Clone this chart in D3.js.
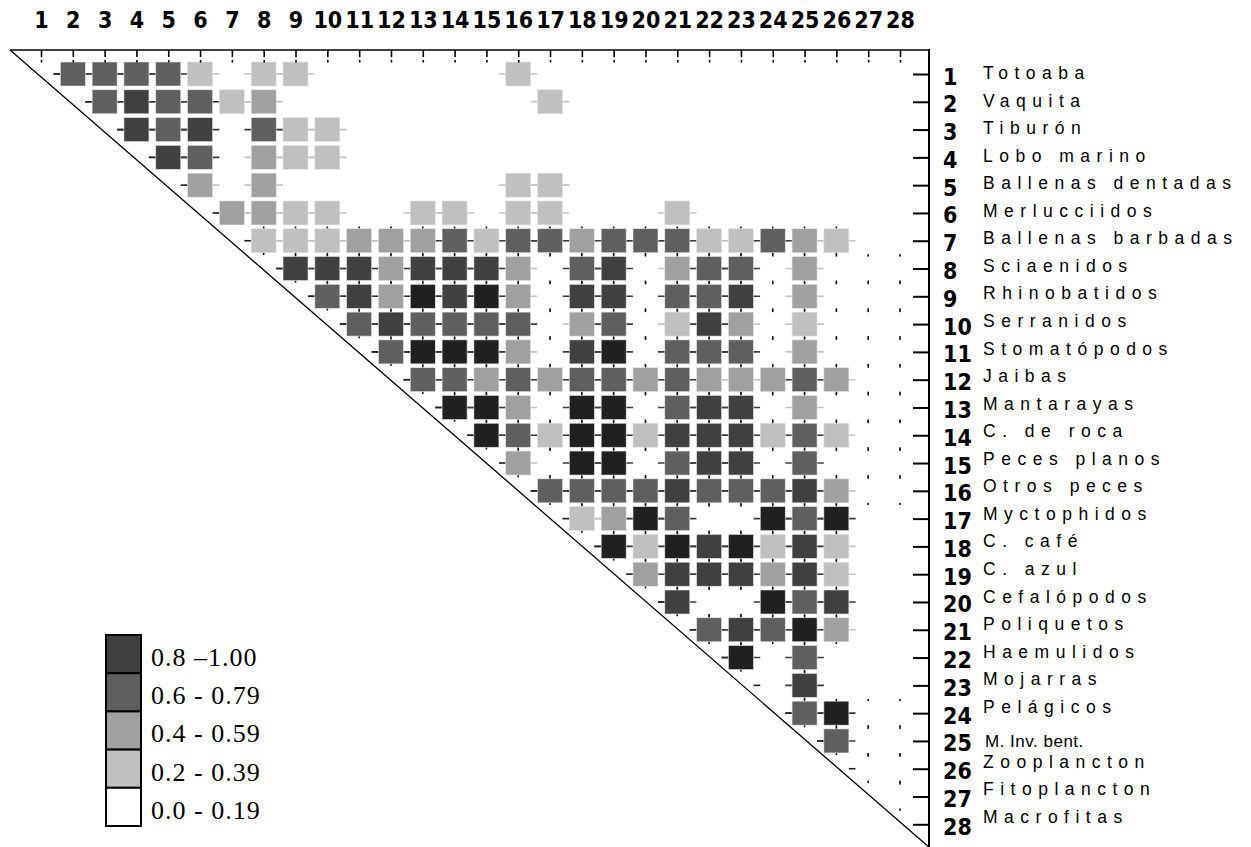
<!DOCTYPE html>
<html>
<head>
<meta charset="utf-8">
<script src="https://cdn.jsdelivr.net/npm/d3@7"></script>
<style>
  body { margin: 0; background: #fff; }
  svg { display: block; }
  .num { font-family: "Liberation Sans Narrow", "DejaVu Sans Condensed", sans-serif; font-stretch: condensed; font-weight: bold; font-size: 23px; fill: #000; }
  .name { font-family: "Liberation Sans", Arial, sans-serif; font-size: 17.5px; letter-spacing: 6.5px; fill: #000; }
  .name.plain { letter-spacing: 0.5px; font-size: 17px; }
  .leg { font-family: "Liberation Serif", "Times New Roman", serif; font-size: 26px; letter-spacing: 1px; fill: #000; }
</style>
</head>
<body>
<div id="chart"></div>
<script>
// group numbers (rows and columns)
const ids = [1, 2, 3, 4, 5, 6, 7, 8, 9, 10, 11, 12, 13, 14, 15, 16, 17, 18, 19, 20, 21, 22, 23, 24, 25, 26, 27, 28];

const species = ["Totoaba", "Vaquita", "Tiburón", "Lobo marino", "Ballenas dentadas", "Merlucciidos",
  "Ballenas barbadas", "Sciaenidos", "Rhinobatidos", "Serranidos", "Stomatópodos", "Jaibas",
  "Mantarayas", "C. de roca", "Peces planos", "Otros peces", "Myctophidos", "C. café", "C. azul",
  "Cefalópodos", "Poliquetos", "Haemulidos", "Mojarras", "Pelágicos", "M. Inv. bent.",
  "Zooplancton", "Fitoplancton", "Macrofitas"];

// overlap class per pair, each row starts at column (row + 1)
// -1 = not drawn, 0 = 0.0-0.19, 1 = 0.2-0.39, 2 = 0.4-0.59, 3 = 0.6-0.79, 4 = 0.8-1.00 (5 = darkest)
const row01 = [3, 3, 3, 3, 1, -1, 1, 1, -1, -1, -1, -1, -1, -1, 1, -1, -1, -1, -1, -1, -1, -1, -1, -1, -1, -1, -1];
const row02 = [3, 4, 3, 3, 1, 2, -1, -1, -1, -1, -1, -1, -1, -1, 1, -1, -1, -1, -1, -1, -1, -1, -1, -1, -1, -1];
const row03 = [4, 3, 4, -1, 3, 1, 1, -1, -1, -1, -1, -1, -1, -1, -1, -1, -1, -1, -1, -1, -1, -1, -1, -1, -1];
const row04 = [4, 3, -1, 2, 1, 1, -1, -1, -1, -1, -1, -1, -1, -1, -1, -1, -1, -1, -1, -1, -1, -1, -1, -1];
const row05 = [2, -1, 2, -1, -1, -1, -1, -1, -1, -1, 1, 1, -1, -1, -1, -1, -1, -1, -1, -1, -1, -1, -1];
const row06 = [2, 2, 1, 1, -1, -1, 1, 1, -1, 1, 1, -1, -1, -1, 1, -1, -1, -1, -1, -1, -1, -1];
const row07 = [1, 1, 1, 2, 2, 2, 3, 1, 3, 3, 2, 3, 3, 3, 1, 1, 3, 2, 1, -1, -1];
const row08 = [4, 4, 4, 2, 4, 4, 4, 2, 0, 3, 4, 0, 2, 3, 3, 0, 2, 0, 0, 0];
const row09 = [3, 4, 2, 5, 4, 5, 2, 0, 4, 4, 0, 3, 3, 4, 0, 2, 0, 0, 0];
const row10 = [3, 4, 3, 3, 3, 3, 0, 2, 3, 0, 1, 4, 2, 0, 1, 0, 0, 0];
const row11 = [3, 5, 5, 5, 2, 0, 4, 5, 0, 3, 3, 3, 0, 2, 0, 0, 0];
const row12 = [3, 3, 2, 3, 2, 3, 3, 2, 3, 2, 2, 2, 3, 2, 0, 0];
const row13 = [5, 5, 2, 0, 5, 5, 0, 3, 4, 4, 0, 2, 0, 0, 0];
const row14 = [5, 3, 1, 5, 5, 1, 4, 4, 4, 1, 3, 1, 0, 0];
const row15 = [2, 0, 5, 5, 0, 3, 4, 4, 0, 3, 0, 0, 0];
const row16 = [3, 3, 3, 3, 4, 3, 3, 3, 4, 2, 0, 0];
const row17 = [1, 2, 5, 3, 0, 0, 5, 3, 5, -1, -1];
const row18 = [5, 1, 5, 4, 5, 1, 4, 1, -1, -1];
const row19 = [2, 4, 4, 4, 2, 4, 1, -1, -1];
const row20 = [4, 0, 0, 5, 3, 4, -1, -1];
const row21 = [3, 4, 3, 5, 2, -1, -1];
const row22 = [5, -1, 3, -1, -1, -1];
const row23 = [-1, 4, -1, -1, -1];
const row24 = [3, 5, 0, 0];
const row25 = [3, 0, 0];
const row26 = [0, 0];
const row27 = [0];

const matrixRows = [row01, row02, row03, row04, row05, row06, row07, row08, row09, row10,
  row11, row12, row13, row14, row15, row16, row17, row18, row19, row20,
  row21, row22, row23, row24, row25, row26, row27];

const legendLabels = ["0.8 \u20131.00", "0.6 - 0.79", "0.4 - 0.59", "0.2 - 0.39", "0.0 - 0.19"];
const legendLevels = [4, 3, 2, 1, 0];

const plainNames = ["M. Inv. bent."];

let w = 1251;
let h = 847;
let cellW = 25;
let cellH = 24;

const shade = d3.scaleOrdinal()
                .domain([0, 1, 2, 3, 4, 5])
                .range(["#ffffff", "#c0c0c0", "#a0a0a0", "#5f5f5f", "#404040", "#202020"]);

const xScale = d3.scalePoint()
                 .domain(ids)
                 .range([41, 900]);

const yScale = d3.scalePoint()
                 .domain(ids)
                 .range([74, 824.3]);

// species names sit on a slightly tighter spacing than the ticks
const nameScale = d3.scalePoint()
                    .domain(species)
                    .range([79, 823]);

const legendScale = d3.scaleBand()
                      .domain(legendLabels)
                      .range([635, 826]);

const svg = d3.select("#chart")
              .append("svg")
              .attr("width", w)
              .attr("height", h);

// flatten the triangle into cells
let cells = [];
matrixRows.forEach((r, i) => {
  r.forEach((v, k) => {
    if (v >= 0) cells.push({ row: ids[i], col: ids[i + 1 + k], v: v });
  });
});

let reach = cellW / 2 + (xScale.step() - cellW);

// whiskers, light ones first so dark ones end up on top
const whiskers = cells.filter(d => d.v > 0).sort((a, b) => a.v - b.v);
svg.append("g")
   .selectAll("line")
   .data(whiskers)
   .enter()
   .append("line")
   .attr("x1", d => xScale(d.col) - reach)
   .attr("x2", d => xScale(d.col) + reach)
   .attr("y1", d => yScale(d.row))
   .attr("y2", d => yScale(d.row))
   .attr("stroke", d => d.v >= 3 ? "#3a3a3a" : "#c4c4c4")
   .attr("stroke-width", 1.6);

// first whisker out of the diagonal in every row
svg.append("g")
   .selectAll("line")
   .data(ids.slice(0, 26))
   .enter()
   .append("line")
   .attr("x1", d => xScale(d + 1) - reach)
   .attr("x2", d => xScale(d + 1) - cellW / 2)
   .attr("y1", d => yScale(d))
   .attr("y2", d => yScale(d))
   .attr("stroke", "#222")
   .attr("stroke-width", 1.6);

// small vertical ticks above and below each cell
svg.append("g")
   .selectAll("line")
   .data(cells.filter(d => d.row >= 7))
   .enter()
   .append("line")
   .attr("x1", d => xScale(d.col))
   .attr("x2", d => xScale(d.col))
   .attr("y1", d => yScale(d.row) - 14.2)
   .attr("y2", d => yScale(d.row) + 14.2)
   .attr("stroke", "#111")
   .attr("stroke-width", 1.6);

svg.append("g")
   .selectAll("rect")
   .data(cells)
   .enter()
   .append("rect")
   .attr("x", d => xScale(d.col) - cellW / 2)
   .attr("y", d => yScale(d.row) - cellH / 2)
   .attr("width", cellW)
   .attr("height", cellH)
   .attr("fill", d => shade(d.v))
   .attr("stroke", d => d.v > 0 ? "#e4e4e4" : "none")
   .attr("stroke-width", 0.6);

// diagonal
svg.append("line")
   .attr("x1", 10).attr("y1", 50)
   .attr("x2", 930).attr("y2", 848)
   .attr("stroke", "#000")
   .attr("stroke-width", 1.3);

// top axis
const xAxis = d3.axisTop(xScale)
                .tickSize(-7)
                .tickPadding(22);

const gx = svg.append("g")
              .attr("transform", "translate(0,50)")
              .call(xAxis);
gx.select(".domain").remove();
gx.selectAll(".tick line").attr("stroke-width", 1.6);
gx.selectAll(".tick text").attr("class", "num").attr("font-family", null).attr("font-size", null);
gx.selectAll(".tick")
  .append("rect")
  .attr("x", -0.8).attr("y", 10)
  .attr("width", 1.6).attr("height", 2.5)
  .attr("fill", "#000");

svg.append("line")
   .attr("x1", 10).attr("y1", 50)
   .attr("x2", 930).attr("y2", 50)
   .attr("stroke", "#000")
   .attr("stroke-width", 1.6);

// right axis
const yAxis = d3.axisRight(yScale)
                .tickSize(-16)
                .tickPadding(14);

const gy = svg.append("g")
              .attr("transform", "translate(929,0)")
              .call(yAxis);
gy.select(".domain").remove();
gy.selectAll(".tick line").attr("stroke-width", 2);
gy.selectAll(".tick text")
  .attr("class", "num")
  .attr("font-family", null)
  .attr("font-size", null)
  .attr("dy", 10);

svg.append("line")
   .attr("x1", 929).attr("y1", 49)
   .attr("x2", 929).attr("y2", 847)
   .attr("stroke", "#000")
   .attr("stroke-width", 2);

// species names
svg.append("g")
   .selectAll("text")
   .data(species)
   .enter()
   .append("text")
   .attr("class", d => plainNames.includes(d) ? "name plain" : "name")
   .attr("x", d => plainNames.includes(d) ? 985 : 983)
   .attr("y", d => nameScale(d) + (plainNames.includes(d) ? 7 : 0))
   .text(d => d);

// legend
const legend = svg.append("g");
legend.selectAll("rect")
      .data(legendLabels)
      .enter()
      .append("rect")
      .attr("x", 106)
      .attr("y", d => legendScale(d))
      .attr("width", 35)
      .attr("height", legendScale.bandwidth())
      .attr("fill", (d, i) => shade(legendLevels[i]))
      .attr("stroke", "#000")
      .attr("stroke-width", 2);

legend.selectAll("text")
      .data(legendLabels)
      .enter()
      .append("text")
      .attr("class", "leg")
      .attr("x", 151)
      .attr("y", d => legendScale(d) + 31)
      .text(d => d);
</script>
</body>
</html>
